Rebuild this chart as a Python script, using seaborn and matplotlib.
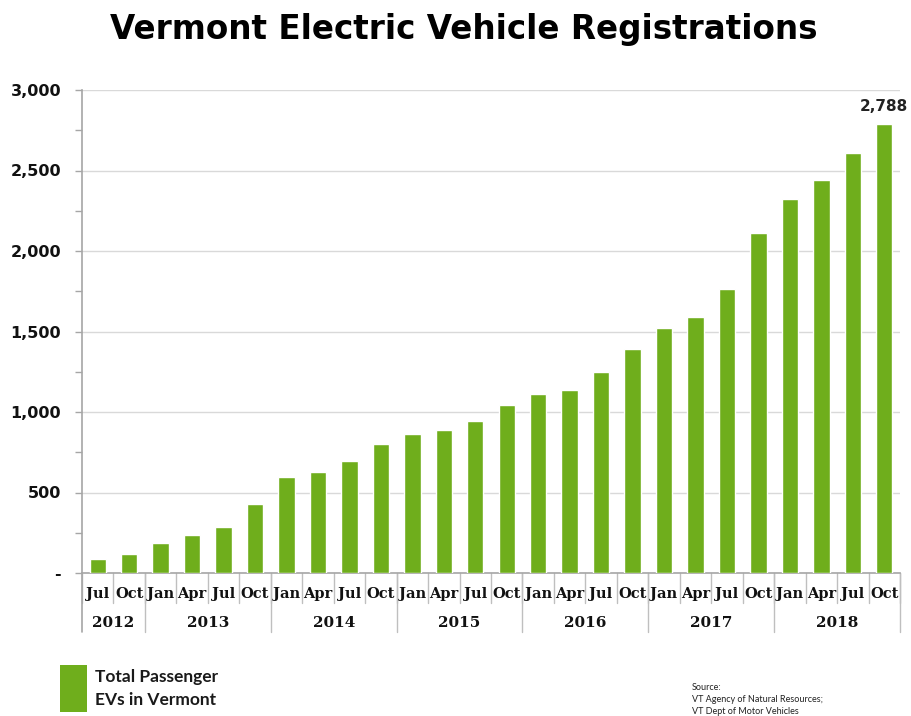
import matplotlib
matplotlib.use("Agg")
import matplotlib.pyplot as plt
import seaborn as sns
import pandas as pd
from matplotlib.patches import Rectangle
from matplotlib.ticker import FuncFormatter, MultipleLocator

months = ["Jul", "Oct",
          "Jan", "Apr", "Jul", "Oct",
          "Jan", "Apr", "Jul", "Oct",
          "Jan", "Apr", "Jul", "Oct",
          "Jan", "Apr", "Jul", "Oct",
          "Jan", "Apr", "Jul", "Oct",
          "Jan", "Apr", "Jul", "Oct"]
years = ["2012", "2013", "2014", "2015", "2016", "2017", "2018"]
year_counts = [2, 4, 4, 4, 4, 4, 4]
registrations = [85, 118, 186, 236, 287, 430,
                 595, 630, 698, 802,
                 866, 890, 942, 1045,
                 1110, 1135, 1249, 1393,
                 1519, 1592, 1767, 2111,
                 2324, 2443, 2609, 2788]
yticks = [0, 500, 1000, 1500, 2000, 2500, 3000]

bar_color = "#6FAE1C"

sns.set_theme(style="white")
plt.rcParams['font.family'] = ['DejaVu Sans']

fig = plt.figure(figsize=(9.12, 7.16), dpi=100)
ax = fig.add_axes([82/912, 1-573/716, (900-82)/912, (573-90)/716])

cats = [f"{m}\n{i}" for i, m in enumerate(months)]
df = pd.DataFrame({"cat": cats, "value": registrations})
sns.barplot(data=df, x="cat", y="value", color=bar_color, width=0.52,
            saturation=1, ax=ax, zorder=3)

ax.set_xlim(-0.5, len(months) - 0.5)
ax.set_ylim(0, 3000)
ax.set_yticks(yticks)
ax.yaxis.set_minor_locator(MultipleLocator(250))
ax.yaxis.set_major_formatter(FuncFormatter(lambda v, p: "-" if v == 0 else f"{int(v):,}"))
ax.grid(axis="y", color="#D9D9D9", linewidth=1, zorder=0)
ax.set_axisbelow(True)
ax.set_xlabel("")
ax.set_ylabel("")
for s in ["top", "right"]:
    ax.spines[s].set_visible(False)
for s in ["left", "bottom"]:
    ax.spines[s].set_color("#A6A6A6")
    ax.spines[s].set_linewidth(1.2)
ax.tick_params(axis="y", which="both", left=True, direction="out", color="#A6A6A6",
               length=5, width=1, labelsize=11.5, pad=10)
for lab in ax.get_yticklabels():
    lab.set_fontweight("bold")
    lab.set_color("#111111")

# month labels
ax.set_xticks(range(len(months)))
ax.set_xticklabels(months, fontsize=10.5, fontweight="bold", family="DejaVu Serif",
                   color="#111111")
ax.tick_params(axis="x", length=0, pad=10)

trans = ax.get_xaxis_transform()
# month separators
for k in range(len(months) + 1):
    ax.plot([k - 0.5, k - 0.5], [0, -30/483], transform=trans, color="#BFBFBF",
            linewidth=1, clip_on=False, zorder=1)
# year separators & labels
start = 0
ax.plot([-0.5, -0.5], [0, -59/483], transform=trans, color="#A6A6A6",
        linewidth=1.2, clip_on=False)
for y, c in zip(years, year_counts):
    end = start + c
    ax.plot([end - 0.5, end - 0.5], [0, -59/483], transform=trans, color="#BFBFBF",
            linewidth=1, clip_on=False)
    ax.text((start + end - 1) / 2, -50/483, y, transform=trans, ha="center",
            va="center", fontsize=11, fontweight="bold", family="DejaVu Serif",
            color="#111111")
    start = end

# last value label
ax.text(len(months) - 1, registrations[-1] + 60, f"{registrations[-1]:,}",
        ha="center", va="bottom", fontsize=11, fontweight="bold",
        family="DejaVu Sans", color="#222222")

fig.text(464/912, 1-30/716, "Vermont Electric Vehicle Registrations",
         ha="center", va="center", fontsize=23.5, fontweight="bold", color="#000000")

# legend
fig.patches.append(Rectangle((60/912, 1-712/716), 27/912, 47/716,
                             transform=fig.transFigure, facecolor=bar_color,
                             edgecolor="none"))
fig.text(95/912, 1-677/716, "Total Passenger", ha="left", va="center",
         fontsize=12.5, family="Lato", fontweight="bold", color="#1a1a1a")
fig.text(95/912, 1-700/716, "EVs in Vermont", ha="left", va="center",
         fontsize=12.5, family="Lato", fontweight="bold", color="#1a1a1a")

# source
for i, line in enumerate(["Source:", "VT Agency of Natural Resources;",
                          "VT Dept of Motor Vehicles"]):
    fig.text(692/912, 1-(688 + i*12)/716, line, ha="left", va="center",
             fontsize=6.5, family="Lato", color="#222222")

fig.savefig("out.png", dpi=100)
